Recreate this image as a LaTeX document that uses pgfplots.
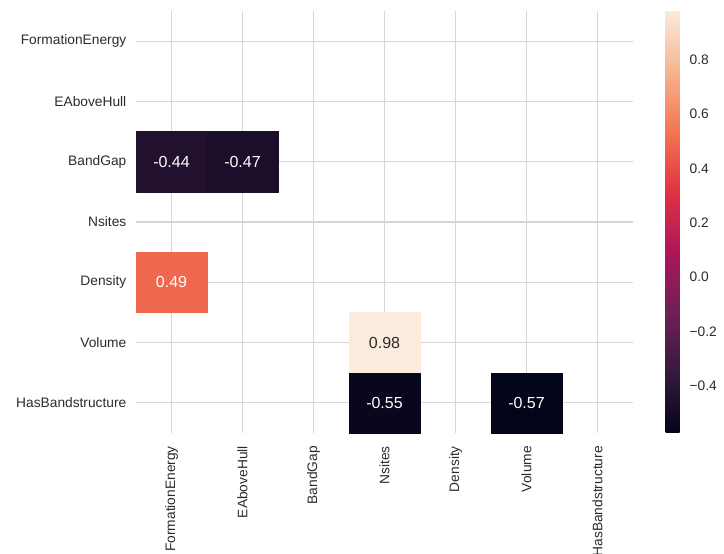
\documentclass[border=0pt]{standalone}
\usepackage{fontspec}
\setmainfont{Liberation Sans}
\usepackage{pgfplots}
\usepackage{pgfplotstable}
\pgfplotsset{compat=1.18}

\definecolor{gridgray}{HTML}{D6D6D6}
\definecolor{labelgray}{HTML}{2B2B2B}

% lower-triangle correlations that survive the mask (column x, row y, value)
\pgfplotstableread{
x y v
0 2 -0.44
1 2 -0.47
0 4 0.49
3 6 -0.55
5 6 -0.57
}\darkcells
\pgfplotstableread{
x y v
3 5 0.98
}\lightcells
% the same cells as rectangles: four corners each, coloured by the value
\pgfplotstableread{
x y v
-0.5 1.5 -0.44
0.5 1.5 -0.44
0.5 2.5 -0.44
-0.5 2.5 -0.44
0.5 1.5 -0.47
1.5 1.5 -0.47
1.5 2.5 -0.47
0.5 2.5 -0.47
-0.5 3.5 0.49
0.5 3.5 0.49
0.5 4.5 0.49
-0.5 4.5 0.49
2.5 4.5 0.98
3.5 4.5 0.98
3.5 5.5 0.98
2.5 5.5 0.98
2.5 5.5 -0.55
3.5 5.5 -0.55
3.5 6.5 -0.55
2.5 6.5 -0.55
4.5 5.5 -0.57
5.5 5.5 -0.57
5.5 6.5 -0.57
4.5 6.5 -0.57
}\cellrects

\newcommand{\lblfont}{\fontsize{13.75bp}{16bp}\selectfont}
\newcommand{\annfont}{\fontsize{16bp}{19bp}\selectfont}

\begin{document}
\begin{tikzpicture}
\useasboundingbox (0bp,0bp) rectangle (724bp,-554bp);
\begin{axis}[
  at={(136bp,-433bp)}, anchor=south west,
  scale only axis, width=497bp, height=422bp,
  xmin=-0.5, xmax=6.5, ymin=-0.5, ymax=6.5,
  y dir=reverse,
  clip=false,
  xtick={0,...,6}, ytick={0,...,6},
  xticklabels={FormationEnergy,EAboveHull,BandGap,Nsites,Density,Volume,HasBandstructure},
  yticklabels={FormationEnergy,EAboveHull,BandGap,Nsites,Density,Volume,HasBandstructure},
  grid=major,
  major grid style={color=gridgray, line width=1.2bp},
  axis line style={draw=none},
  major tick length=0pt,
  tick label style={font=\lblfont, text=labelgray},
  xticklabel style={rotate=90, anchor=east, inner xsep=13bp, inner ysep=0pt},
  yticklabel style={anchor=east, inner xsep=9.5bp, inner ysep=0pt},
  colormap={rocket}{
    rgb255(0)=(3,5,26); rgb255(1)=(53,25,62); rgb255(2)=(112,31,87);
    rgb255(3)=(173,23,89); rgb255(4)=(225,51,66); rgb255(5)=(243,118,81);
    rgb255(6)=(246,180,143); rgb255(7)=(250,235,221)},
  point meta min=-0.572, point meta max=0.981,
  colorbar,
  colorbar style={
    at={(657bp,-10.5bp)}, anchor=north west,
    scale only axis, width=21bp, height=422bp,
    axis line style={draw=none}, major tick length=0pt, grid=none,
    ytick={-0.4,-0.2,0,0.2,0.4,0.6,0.8},
    yticklabels={−0.4,−0.2,0.0,0.2,0.4,0.6,0.8},
    yticklabel style={font=\lblfont, text=labelgray, anchor=west, inner xsep=3bp, inner ysep=0pt},
  },
  valuelabel/.style={
    draw=none, mark=none, point meta=explicit,
    nodes near coords={\pgfmathprintnumber[fixed,fixed zerofill,precision=2,assume math mode=true]{\pgfplotspointmeta}},
    nodes near coords align=center,
  },
]
\addplot[patch, patch type=rectangle, shader=flat, point meta=explicit]
  table[x=x, y=y, meta=v] {\cellrects};
\addplot[valuelabel, every node near coord/.append style={font=\annfont, text=white, anchor=center, inner sep=0pt}]
  table[x=x, y=y, meta=v] {\darkcells};
\addplot[valuelabel, every node near coord/.append style={font=\annfont, text=labelgray, anchor=center, inner sep=0pt}]
  table[x=x, y=y, meta=v] {\lightcells};
\end{axis}
\end{tikzpicture}
\end{document}
